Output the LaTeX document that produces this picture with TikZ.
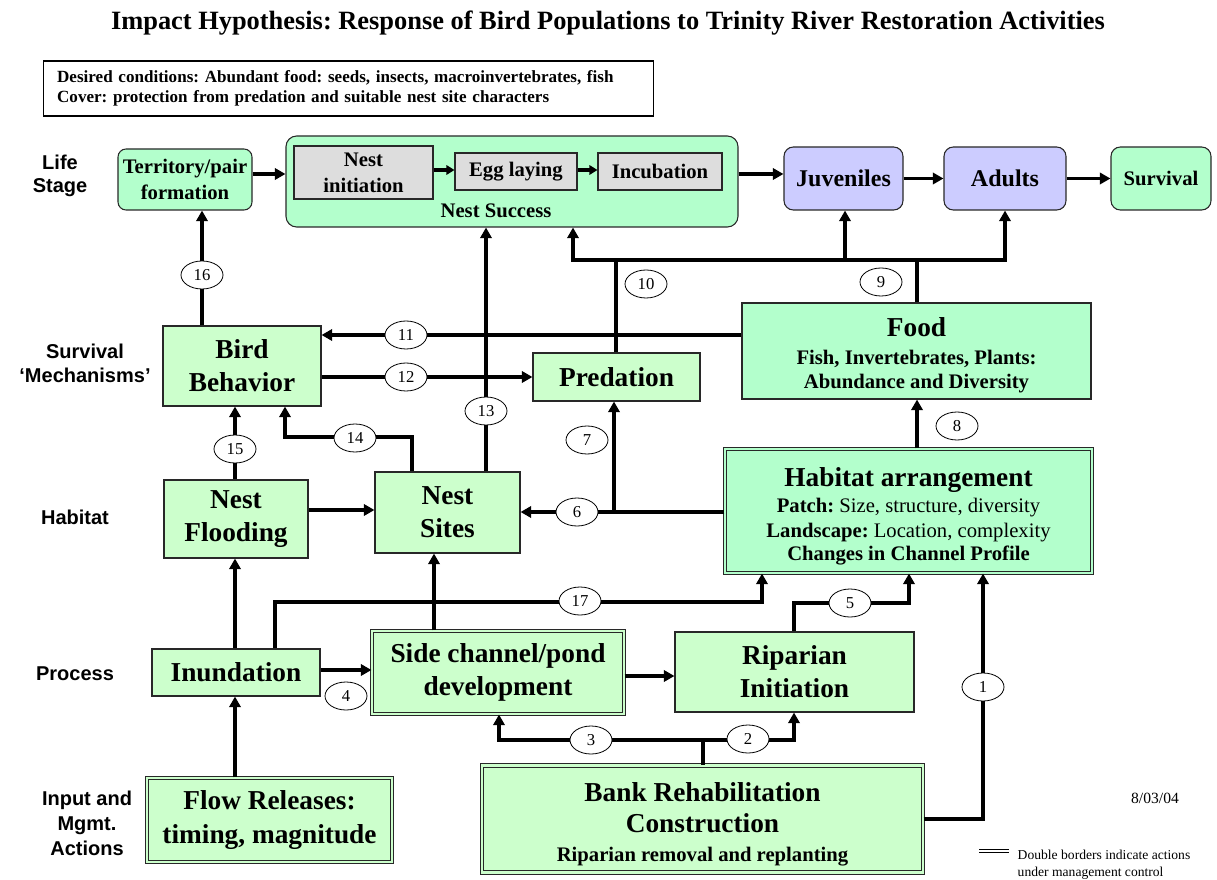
\documentclass[tikz,border=0pt]{standalone}
\usepackage{fontspec}
\setmainfont{Liberation Serif}
\newfontfamily\labfont{Liberation Sans}
\usetikzlibrary{arrows.meta,shapes.geometric}
\definecolor{mint}{RGB}{179,255,204}
\definecolor{pale}{RGB}{204,255,204}
\definecolor{lav}{RGB}{204,204,255}
\definecolor{greybox}{RGB}{221,221,221}
\definecolor{edge}{RGB}{40,40,40}
\frenchspacing
\begin{document}
\begin{tikzpicture}[x=0.75pt,y=-0.75pt,
  sz/.style 2 args={minimum width=#1*0.75pt, minimum height=#2*0.75pt},
  base/.style={draw=edge, line width=0.8pt, inner sep=0pt, align=center},
  bigf/.style={font=\bfseries\fontsize{20.5}{24.75}\selectfont},
  midf/.style={font=\bfseries\fontsize{15.5}{19}\selectfont},
  subf/.style={font=\bfseries\fontsize{15.5}{18}\selectfont},
  pbox/.style={base, fill=pale, bigf},
  mbox/.style={base, fill=mint},
  gbox/.style={base, fill=greybox, midf},
  lbox/.style={base, fill=lav, rounded corners=7pt, font=\bfseries\fontsize{18}{21}\selectfont},
  mgmt/.style={base, fill=pale, double=pale, double distance=1.6pt, bigf},
  lab/.style={align=center, font=\labfont\bfseries\fontsize{15}{18}\selectfont},
  num/.style={ellipse, draw=black, line width=0.6pt, fill=white, inner sep=0pt,
    minimum width=42*0.75pt, minimum height=28*0.75pt, font=\fontsize{12.5}{12.5}\selectfont},
  conn/.style={draw=black, line width=2.4pt},
  arr/.style={conn, -{Triangle[length=8pt,width=8.5pt]}},
  sarr/.style={conn, -{Triangle[length=6pt,width=7pt]}}
]
\useasboundingbox (0,0) rectangle (1217,880);

% ---------- heading and conditions box ----------
\node[anchor=base, font=\bfseries\fontsize{19.8}{24}\selectfont] (title) at (608,30)
  {Impact Hypothesis: Response of Bird Populations to Trinity River Restoration Activities};
\node[draw=black, line width=0.8pt, align=left, inner xsep=10.5pt, inner ysep=0pt,
  text width=437pt, minimum height=55*0.75pt,
  font=\bfseries\fontsize{12.8}{15}\selectfont] (desired) at (348.5,88.5)
  {Desired conditions: Abundant food: seeds, insects, macroinvertebrates, fish\\
   Cover: protection from predation and suitable nest site characters};

% ---------- row labels ----------
\node[lab, font=\labfont\bfseries\fontsize{15}{17.5}\selectfont] (lLife) at (60,176) {Life\\Stage};
\node[lab] (lSurv) at (85,363) {Survival\\‘Mechanisms’};
\node[lab] (lHab) at (75,517) {Habitat};
\node[lab] (lProc) at (75,674) {Process};
\node[lab, font=\labfont\bfseries\fontsize{15}{18.75}\selectfont] (lInput) at (87,823) {Input and\\Mgmt.\\Actions};

% ---------- life stage row ----------
\node[mbox, rounded corners=6pt, sz={134}{61}, midf] (terr) at (185,179.5) {Territory/pair\\formation};
\node[mbox, rounded corners=8pt, sz={452}{91}] (nest) at (512,181.5) {};
\node[gbox, sz={139}{53}, font=\bfseries\fontsize{15.5}{19.5}\selectfont] (ninit) at (363.5,172.5) {Nest\\initiation};
\node[gbox, sz={122}{37}] (egg) at (516,171.5) {Egg laying};
\node[gbox, sz={124}{37}] (incub) at (660,171.5) {Incubation};
\node[anchor=base, midf] (nsucc) at (496,218) {Nest Success};
\node[lbox, sz={119}{63}] (juv) at (843.5,178.5) {Juveniles};
\node[lbox, sz={122}{63}] (adu) at (1005,178.5) {Adults};
\node[mbox, rounded corners=7pt, sz={100}{63}, midf] (surv) at (1161,178.5) {Survival};

% ---------- survival mechanisms row ----------
\node[pbox, sz={158}{80}] (bhv) at (242,366) {Bird\\Behavior};
\node[pbox, sz={167}{48}] (pred) at (616.5,377) {Predation};
\node[mbox, sz={349}{96}] (food) at (916.5,351) {};
\node[anchor=base, bigf] (foodT) at (916.5,337) {Food};
\node[anchor=base, subf] (foodA) at (916.5,365) {Fish, Invertebrates, Plants:};
\node[anchor=base, subf] (foodB) at (916.5,389) {Abundance and Diversity};

% ---------- habitat row ----------
\node[pbox, sz={144}{78}] (flood) at (236,519) {Nest\\Flooding};
\node[pbox, sz={145}{81}] (sites) at (447.5,512.5) {Nest\\Sites};
\node[mgmt, fill=mint, double=mint, sz={367}{124}] (hab) at (908.5,511) {};
\node[anchor=base, bigf] (habT) at (908.5,486) {Habitat arrangement};
\node[anchor=base, font=\fontsize{15.5}{18}\selectfont] (habA) at (908.5,512) {\textbf{Patch:} Size, structure, diversity};
\node[anchor=base, font=\fontsize{15.5}{18}\selectfont] (habB) at (908.5,537) {\textbf{Landscape:} Location, complexity};
\node[anchor=base, subf] (habC) at (908.5,560) {Changes in Channel Profile};

% ---------- process row ----------
\node[pbox, sz={168}{47}] (inun) at (236,672.5) {Inundation};
\node[mgmt, sz={252}{83}] (side) at (498,672.5) {Side channel/pond\\development};
\node[pbox, sz={239}{80}] (rip) at (794.5,672) {Riparian\\Initiation};

% ---------- management actions row ----------
\node[mgmt, sz={245}{84}, font=\bfseries\fontsize{20.5}{25.5}\selectfont] (flow) at (269.5,820) {Flow Releases:\\timing, magnitude};
\node[mgmt, sz={441}{107}] (bank) at (702.5,819) {};
\node[anchor=base, bigf] (bankA) at (702.5,801) {Bank Rehabilitation};
\node[anchor=base, bigf] (bankB) at (702.5,832) {Construction};
\node[anchor=base, subf] (bankC) at (702.5,861) {Riparian removal and replanting};

% ---------- connectors inside the life stage row ----------
\coordinate (yT) at (0,174);
\draw[arr] (terr.east |- yT) -- (nest.west |- yT);
\coordinate (yE) at (0,170);
\draw[sarr] (ninit.east |- yE) -- (egg.west |- yE);
\draw[sarr] (egg.east |- yE) -- (incub.west |- yE);
\draw[arr] (nest.east |- yT) -- (juv.west |- yT);
\draw[arr] (juv.east) -- (adu.west);
\draw[arr] (adu.east) -- (surv.west);

% ---------- numbered connectors ----------
% 16, 15, 14, 13
\coordinate (v16) at (202,275);
\draw[arr] (bhv.north -| v16) -- (terr.south -| v16);
\coordinate (v15) at (235,449);
\draw[arr] (flood.north -| v15) -- (bhv.south -| v15);
\coordinate (b14a) at (412,437);
\coordinate (b14b) at (285,437);
\draw[arr] (sites.north -| b14a) -- (b14a) -- (b14b) -- (bhv.south -| b14b);
\coordinate (v13) at (486,411);
\draw[arr] (sites.north -| v13) -- (nest.south -| v13);

% 12, 11
\coordinate (h12) at (406,377);
\draw[arr] (bhv.east |- h12) -- (pred.west |- h12);
\coordinate (h11) at (406,335);
\draw[arr] (food.west |- h11) -- (bhv.east |- h11);

% 10, 9: common line feeding the life stages
\coordinate (j9) at (917,260);
\coordinate (j10) at (616,260);
\coordinate (bL) at (573,260);
\coordinate (bJ) at (845,260);
\coordinate (bA) at (1005,260);
\draw[conn] (food.north -| j9) -- (j9);
\draw[conn] (pred.north -| j10) -- (j10);
\draw[arr] (bJ) -- (bL) -- (nest.south -| bL);
\draw[arr] (bJ) -- (juv.south -| bJ);
\draw[arr] (bJ) -- (bA) -- (adu.south -| bA);

% 8, 7, 6
\coordinate (v8) at (917,426);
\draw[arr] (hab.north -| v8) -- (food.south -| v8);
\coordinate (j7) at (614,512);
\draw[arr] (hab.west |- j7) -- (sites.east |- j7);
\draw[arr] (j7) -- (pred.south -| j7);

% habitat links
\coordinate (hFS) at (0,510);
\draw[arr] (flood.east |- hFS) -- (sites.west |- hFS);
\coordinate (vIF) at (235,0);
\draw[arr] (inun.north -| vIF) -- (flood.south -| vIF);
\draw[arr] (flow.north -| vIF) -- (inun.south -| vIF);
\coordinate (vSS) at (434,0);
\draw[arr] (side.north -| vSS) -- (sites.south -| vSS);

% 17
\coordinate (b17a) at (275,602);
\coordinate (b17b) at (762,602);
\draw[arr] (inun.north -| b17a) -- (b17a) -- (b17b) -- (hab.south -| b17b);

% 4 and the process chain
\coordinate (h4) at (0,670);
\draw[arr] (inun.east |- h4) -- (side.west |- h4);
\coordinate (hSR) at (0,676);
\draw[arr] (side.east |- hSR) -- (rip.west |- hSR);

% 5
\coordinate (b5a) at (794,603);
\coordinate (b5b) at (909,603);
\draw[arr] (rip.north -| b5a) -- (b5a) -- (b5b) -- (hab.south -| b5b);

% 3, 2
\coordinate (j23) at (703,740);
\coordinate (b3) at (499,740);
\coordinate (b2) at (794,740);
\draw[conn] (bank.north -| j23) -- (j23);
\draw[arr] (j23) -- (b3) -- (side.south -| b3);
\draw[arr] (j23) -- (b2) -- (rip.south -| b2);

% 1
\coordinate (b1) at (983,819);
\draw[arr] (bank.east |- b1) -- (b1) -- (hab.south -| b1);

% ---------- link numbers ----------
\node[num] (n1) at (983,687) {1};
\node[num] (n2) at (748,739) {2};
\node[num] (n3) at (591,740) {3};
\node[num] (n4) at (346,696) {4};
\node[num] (n5) at (850,603) {5};
\node[num] (n6) at (577,512) {6};
\node[num] (n7) at (587,440) {7};
\node[num] (n8) at (957,426) {8};
\node[num] (n9) at (881,282) {9};
\node[num] (n10) at (646,284) {10};
\node[num] (n11) at (h11) {11};
\node[num] (n12) at (h12) {12};
\node[num] (n13) at (v13) {13};
\node[num] (n14) at (355,438) {14};
\node[num] (n15) at (v15) {15};
\node[num] (n16) at (v16) {16};
\node[num] (n17) at (580,601) {17};

% ---------- date and legend ----------
\node[anchor=base, font=\fontsize{11.7}{14}\selectfont] (date) at (1155,803) {8/03/04};
\coordinate (lgA) at (979,851);
\coordinate (lgB) at (1009,851);
\draw[draw=black, line width=0.8pt, double=white, double distance=1.2pt] (lgA) -- (lgB);
\node[anchor=base west, font=\fontsize{10.2}{12}\selectfont] (legA) at (1013,859) {Double borders indicate actions};
\node[anchor=base west, font=\fontsize{10.2}{12}\selectfont] (legB) at (1013,876) {under management control};
\end{tikzpicture}
\end{document}
